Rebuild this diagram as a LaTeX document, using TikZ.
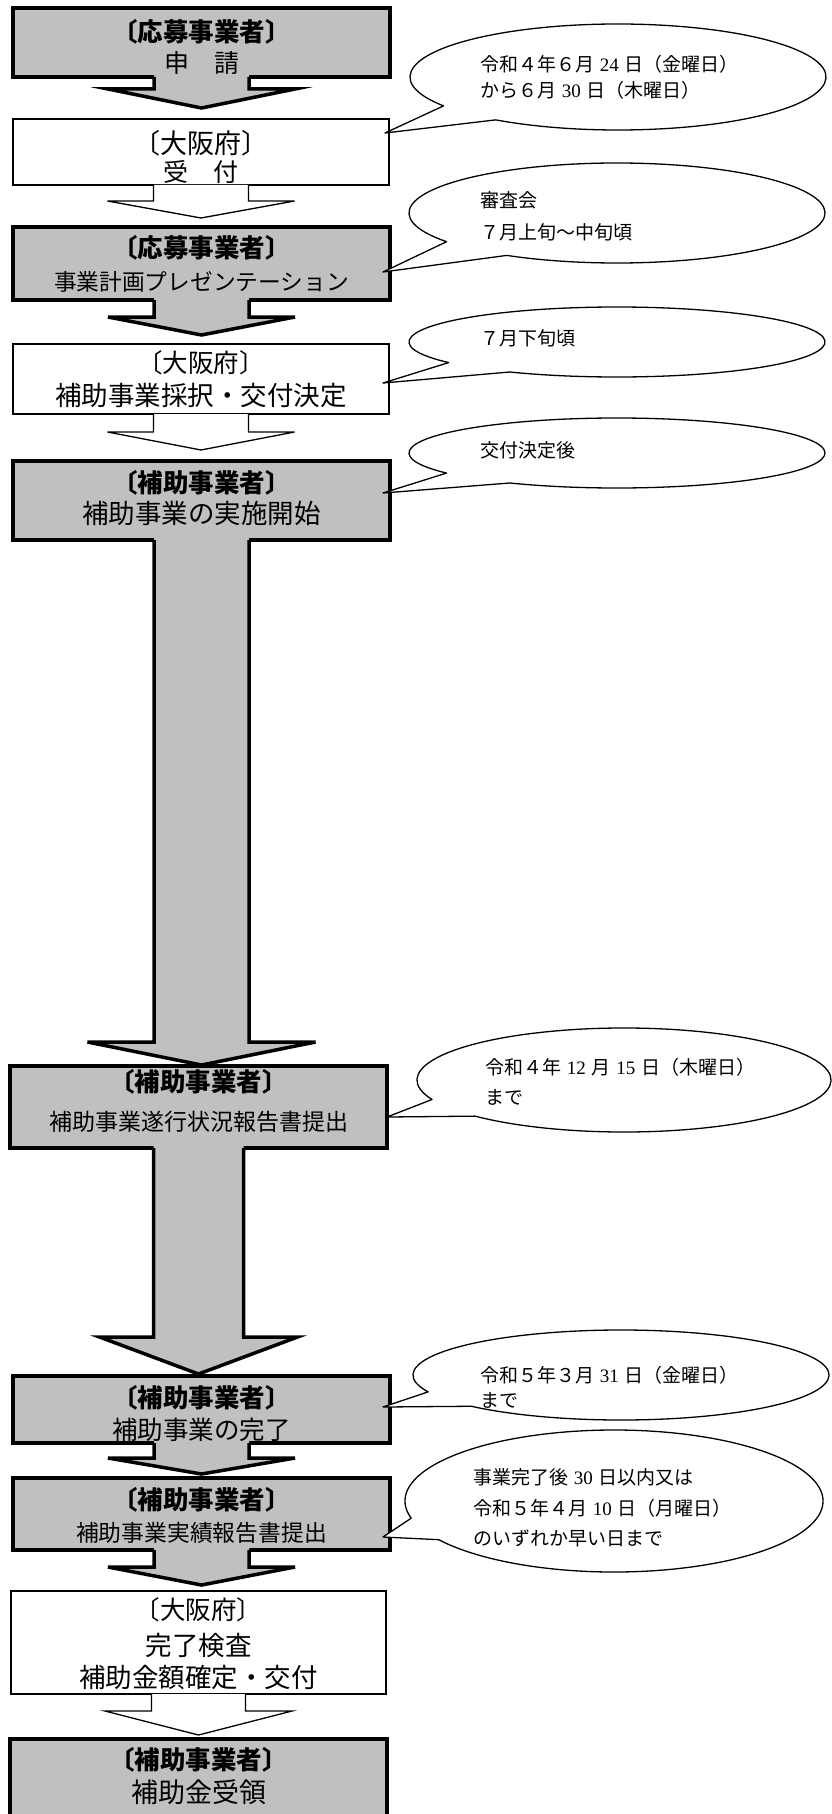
\documentclass[tikz,border=0pt]{standalone}
\usepackage{fontspec}
\setmainfont{Noto Sans CJK JP}
\newfontfamily\serdigits{Liberation Serif}
\usetikzlibrary{calc}
\definecolor{boxgray}{HTML}{C0C0C0}
\newcommand\hnum[1]{\hspace{0.3em}{\serdigits #1}\hspace{0.3em}}
\newcommand\fs[1]{\fontsize{#1}{#1}\selectfont}
\tikzset{
  graybox/.style={rectangle, draw=black, fill=boxgray, line width=3.5pt, outer sep=0pt, inner sep=0pt},
  whitebox/.style={rectangle, draw=black, fill=white, line width=1.3pt, outer sep=0pt, inner sep=0pt},
  headtxt/.style={inner sep=0pt, font=\fs{25.5}\bfseries},
  bodytxt/.style={inner sep=0pt},
  notetxt/.style={inner sep=0pt, anchor=west, font=\fs{19}},
  callout/.style={draw=black, fill=white, line width=1.3pt, line join=round},
  grayarrowfill/.style={fill=boxgray},
  grayarrowline/.style={draw=black, line width=3.5pt, line join=miter},
  whitearrowfill/.style={fill=white},
  whitearrowline/.style={draw=black, line width=1.3pt, line join=miter},
}
% #1 kind, #2 from node, #3 to node, #4 shaft half width, #5 head half width, #6 head length, #7 gap to next box, #8 overlap into box above
\newcommand\flowarrow[8]{%
  \fill[#1arrowfill] let \p1=(#2.south), \p2=(#3.north) in
    (\x1-#4pt,\y1+#8pt) -- (\x1-#4pt,\y2+#7pt+#6pt) -- (\x1-#5pt,\y2+#7pt+#6pt) -- (\x1,\y2+#7pt)
    -- (\x1+#5pt,\y2+#7pt+#6pt) -- (\x1+#4pt,\y2+#7pt+#6pt) -- (\x1+#4pt,\y1+#8pt) -- cycle;
  \draw[#1arrowline] let \p1=(#2.south), \p2=(#3.north) in
    (\x1-#4pt,\y1) -- (\x1-#4pt,\y2+#7pt+#6pt) -- (\x1-#5pt,\y2+#7pt+#6pt) -- (\x1,\y2+#7pt)
    -- (\x1+#5pt,\y2+#7pt+#6pt) -- (\x1+#4pt,\y2+#7pt+#6pt) -- (\x1+#4pt,\y1);
}
% #1 tip, #2 centre, #3 rx, #4 ry, #5 start angle, #6 end angle
\newcommand\calloutshape[6]{%
  \draw[callout] (#1) -- ([shift={(#5:#3 and #4)}]#2)
    arc[start angle=#5, end angle=#6, x radius=#3, y radius=#4] -- cycle;
}
\begin{document}
\begin{tikzpicture}[x=1pt,y=-1pt]
\useasboundingbox (0,0) rectangle (832,1814);

% boxes
\node[graybox,  minimum width=377pt, minimum height=69pt]  (b1)  at (201.5,42.5) {};
\node[whitebox, minimum width=376pt, minimum height=66pt]  (b2)  at (201,152) {};
\node[graybox,  minimum width=377pt, minimum height=73pt]  (b3)  at (201.5,263.5) {};
\node[whitebox, minimum width=376pt, minimum height=70pt]  (b4)  at (201,379) {};
\node[graybox,  minimum width=377pt, minimum height=79pt]  (b5)  at (201.5,500.5) {};
\node[graybox,  minimum width=377pt, minimum height=82pt]  (b6)  at (198.5,1107) {};
\node[graybox,  minimum width=377pt, minimum height=67pt]  (b7)  at (201.5,1409.5) {};
\node[graybox,  minimum width=377pt, minimum height=72pt]  (b8)  at (201.5,1514) {};
\node[whitebox, minimum width=375pt, minimum height=103pt] (b9)  at (198.5,1642.5) {};
\node[graybox,  minimum width=377pt, minimum height=102pt] (b10) at (198.5,1790) {};

% arrows
\flowarrow{gray}{b1}{b2}{47.5}{93.5}{19}{11}{2}
\flowarrow{white}{b2}{b3}{47.5}{93.5}{17}{9}{0}
\flowarrow{gray}{b3}{b4}{47.5}{93.5}{18}{9}{2}
\flowarrow{white}{b4}{b5}{47.5}{93.5}{18}{11}{0}
\flowarrow{gray}{b5}{b6}{47.5}{114}{23}{1}{2}
\flowarrow{gray}{b6}{b7}{45}{99}{37}{2}{2}
\flowarrow{gray}{b7}{b8}{47.5}{93.5}{16}{4}{2}
\flowarrow{gray}{b8}{b9}{47.5}{93.5}{18}{6}{2}
\flowarrow{white}{b9}{b10}{47}{93.5}{24}{4}{0}

% box texts
\node[headtxt] (t1a) at (201.5,32) {〔応募事業者〕};
\node[bodytxt, font=\fs{25}] (t1b) at (201.5,63) {申　請};
\node[bodytxt, font=\fs{27}] (t2a) at (201,143) {〔大阪府〕};
\node[bodytxt, font=\fs{25}] (t2b) at (201,172) {受　付};
\node[headtxt] (t3a) at (201.5,248) {〔応募事業者〕};
\node[bodytxt, font=\fs{22.7}] (t3b) at (201.5,282) {事業計画プレゼンテーション};
\node[bodytxt, font=\fs{25.5}] (t4a) at (201,363) {〔大阪府〕};
\node[bodytxt, font=\fs{26.5}] (t4b) at (201,395) {補助事業採択・交付決定};
\node[headtxt] (t5a) at (201.5,483) {〔補助事業者〕};
\node[bodytxt, font=\fs{26.5}] (t5b) at (201.5,513) {補助事業の実施開始};
\node[headtxt] (t6a) at (198.5,1082) {〔補助事業者〕};
\node[bodytxt, font=\fs{23}] (t6b) at (198.5,1122) {補助事業遂行状況報告書提出};
\node[headtxt] (t7a) at (201.5,1398) {〔補助事業者〕};
\node[bodytxt, font=\fs{25.5}] (t7b) at (201.5,1430) {補助事業の完了};
\node[headtxt] (t8a) at (201.5,1500) {〔補助事業者〕};
\node[bodytxt, font=\fs{22.8}] (t8b) at (201.5,1533) {補助事業実績報告書提出};
\node[bodytxt, font=\fs{25.5}] (t9a) at (198.5,1610) {〔大阪府〕};
\node[bodytxt, font=\fs{26.5}] (t9b) at (198.5,1645) {完了検査};
\node[bodytxt, font=\fs{26.5}] (t9c) at (198.5,1677) {補助金額確定・交付};
\node[headtxt] (t10a) at (198.5,1760) {〔補助事業者〕};
\node[bodytxt, font=\fs{27}] (t10b) at (198.5,1792) {補助金受領};

% callouts
\coordinate (c1) at (618,77);    \coordinate (k1) at (385,133);
\coordinate (c2) at (617,213);   \coordinate (k2) at (383,272);
\coordinate (c3) at (617,342);   \coordinate (k3) at (383,383);
\coordinate (c4) at (617,453);   \coordinate (k4) at (383,493);
\coordinate (c5) at (624,1080);  \coordinate (k5) at (387,1117);
\coordinate (c6) at (621,1375);  \coordinate (k6) at (383,1407);
\coordinate (c7) at (614,1501);  \coordinate (k7) at (383,1537);

\calloutshape{k1}{c1}{208}{53}{147}{486}
\calloutshape{k2}{c2}{208}{50}{145}{482}
\calloutshape{k3}{c3}{208}{35}{144}{481}
\calloutshape{k4}{c4}{208}{35}{145}{481}
\calloutshape{k5}{c5}{207}{52}{158}{496}
\calloutshape{k6}{c6}{208}{45}{158}{496}
\calloutshape{k7}{c7}{209}{71}{166}{507}

% callout texts
\node[notetxt] (n1a) at (480,64) {令和４年６月\hnum{24}日（金曜日）};
\node[notetxt] (n1b) at (480,90) {から６月\hnum{30}日（木曜日）};
\node[notetxt] (n2a) at (480,200) {審査会};
\node[notetxt] (n2b) at (480,232) {７月上旬～中旬頃};
\node[notetxt] (n3a) at (480,338) {７月下旬頃};
\node[notetxt] (n4a) at (480,450) {交付決定後};
\node[notetxt] (n5a) at (485,1067) {令和４年\hnum{12}月\hnum{15}日（木曜日）};
\node[notetxt] (n5b) at (485,1097) {まで};
\node[notetxt] (n6a) at (480,1375) {令和５年３月\hnum{31}日（金曜日）};
\node[notetxt] (n6b) at (480,1400) {まで};
\node[notetxt] (n7a) at (473,1477) {事業完了後\hnum{30}日以内又は};
\node[notetxt] (n7b) at (473,1508) {令和５年４月\hnum{10}日（月曜日）};
\node[notetxt] (n7c) at (473,1538) {のいずれか早い日まで};
\end{tikzpicture}
\end{document}
